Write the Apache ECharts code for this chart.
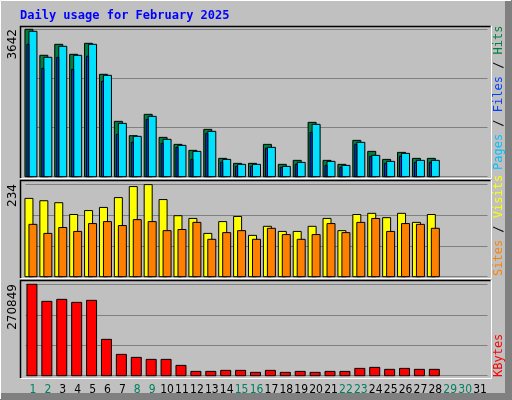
<!DOCTYPE html>
<html>
<head>
<meta charset="utf-8">
<script src="https://cdn.jsdelivr.net/npm/echarts@6/dist/echarts.min.js"></script>
<style>html,body{margin:0;padding:0;background:#c0c0c0}#chart{width:512px;height:400px}</style>
</head>
<body>
<div id="chart"></div>
<script>
(function () {

    var days = [];
    for (var d = 1; d <= 31; d++) days.push(String(d));
    var weekend = ['1', '2', '8', '9', '15', '16', '22', '23', '29', '30'];

    var hits   = [3642, 3000, 3271, 3024, 3296, 2530, 1368, 1013, 1541, 972, 799, 651, 1170, 453, 330, 330, 799, 305, 404, 1343, 404, 305, 898, 626, 428, 601, 453, 453];
    var files  = [3593, 2950, 3222, 2999, 3271, 2505, 1318, 997, 1491, 923, 775, 626, 1121, 428, 305, 305, 725, 255, 354, 1294, 379, 280, 849, 527, 379, 577, 404, 404];
    var pages  = [3271, 2678, 2950, 2653, 2975, 2357, 1046, 849, 1417, 824, 725, 428, 1071, 354, 255, 255, 700, 231, 305, 1096, 280, 231, 799, 503, 330, 503, 354, 354];
    var visits = [199, 193, 188, 158, 168, 176, 201, 229, 234, 196, 155, 148, 110, 140, 153, 105, 128, 115, 115, 128, 148, 117, 158, 161, 150, 161, 138, 158];
    var sites  = [133, 110, 125, 115, 135, 140, 130, 145, 140, 117, 120, 138, 95, 112, 117, 95, 123, 107, 95, 107, 135, 112, 138, 148, 115, 135, 133, 123];
    var kbytes = [270849, 220300, 226250, 217350, 223300, 107700, 63200, 54300, 48400, 48400, 30600, 12800, 12800, 15800, 15800, 9900, 15800, 9900, 12800, 9900, 12800, 12800, 21700, 24700, 18800, 21700, 18800, 18800];

    var maxHits = 3642, maxVisits = 234, maxKB = 270849;

    var chart = echarts.init(document.getElementById('chart'));

    function toData(arr) {
        return arr.map(function (v, i) { return [i, v]; });
    }

    // bar drawn from offset x0..x1 relative to category center
    function barSeries(idx, arr, x0, x1, color) {
        return {
            type: 'custom', xAxisIndex: idx, yAxisIndex: idx, data: toData(arr),
            renderItem: function (params, api) {
                var top = api.coord([api.value(0), api.value(1)]);
                var base = api.coord([api.value(0), 0]);
                return {
                    type: 'rect',
                    shape: { x: top[0] + x0, y: top[1], width: x1 - x0, height: base[1] - top[1] },
                    style: { fill: color, stroke: '#000', lineWidth: 1 }
                };
            }
        };
    }

    var grids = [
        { left: 25.5, width: 462, top: 29.3, height: 147.4 },
        { left: 25.5, width: 462, top: 184.6, height: 92.1 },
        { left: 25.5, width: 462, top: 284.3, height: 91.4 }
    ];
    var maxes = [maxHits, maxVisits, maxKB];

    var lblFont = '"DejaVu Sans Condensed"';
    var xAxes = grids.map(function (g, i) {
        return {
            type: 'category', gridIndex: i, data: days, boundaryGap: true,
            axisLine: { show: false }, axisTick: { show: false },
            axisLabel: i < 2 ? { show: false } : {
                margin: 8, fontSize: 12, interval: 0,
                formatter: function (v) { return weekend.indexOf(v) >= 0 ? '{w|' + v + '}' : '{n|' + v + '}'; },
                rich: { w: { color: '#008060', fontSize: 12, fontFamily: lblFont }, n: { color: '#000', fontSize: 12, fontFamily: lblFont } }
            }
        };
    });
    var yAxes = grids.map(function (g, i) {
        return {
            type: 'value', gridIndex: i, min: 0, max: maxes[i], interval: maxes[i] / 3 + 0.01,
            axisLine: { show: false }, axisTick: { show: false }, axisLabel: { show: false },
            splitLine: { lineStyle: { color: '#808080', width: 1 } }
        };
    });

    var graphics = [
        { type: 'rect', shape: { x: 0, y: 0, width: 512, height: 400 }, style: { fill: '#c0c0c0' }, z: -10 },
        { type: 'rect', shape: { x: 505, y: 0, width: 7, height: 400 }, style: { fill: '#808080' }, z: -9 },
        { type: 'rect', shape: { x: 0, y: 393, width: 512, height: 7 }, style: { fill: '#808080' }, z: -9 },
        { type: 'polyline', shape: { points: [[0.5, 399], [0.5, 0.5], [511, 0.5]] }, style: { stroke: '#fff', fill: null }, z: -8 },
        { type: 'text', x: 20, y: 16, style: { text: 'Daily usage for February 2025', fill: '#0000ff', font: 'bold 12px "DejaVu Sans Mono"', verticalAlign: 'middle' } }
    ];
    var boxes = [[26, 178], [180, 278], [280, 378]];
    boxes.forEach(function (b) {
        graphics.push({ type: 'polyline', shape: { points: [[20.5, b[1]], [20.5, b[0] + 0.5], [490.5, b[0] + 0.5]] }, style: { stroke: '#000', lineWidth: 1.5, fill: null }, z: 10 });
        graphics.push({ type: 'polyline', shape: { points: [[20.5, b[1] + 0.5], [491.5, b[1] + 0.5], [491.5, b[0]]] }, style: { stroke: '#fff', lineWidth: 1, fill: null }, z: 10 });
    });
    function vtext(x, y, text, align, rich, font) {
        return { type: 'text', x: x, y: y, rotation: Math.PI / 2,
            style: { text: text, align: align, verticalAlign: 'middle', font: font, rich: rich, fill: '#000' }, z: 10 };
    }
    var mono = '12px "DejaVu Sans Mono"';
    var rm = function (c) { return { fill: c, font: mono }; };
    graphics.push(vtext(13, 29, String(maxHits), 'right', null, '12px "DejaVu Sans"'));
    graphics.push(vtext(13, 184, String(maxVisits), 'right', null, '12px "DejaVu Sans"'));
    graphics.push(vtext(13, 284, String(maxKB), 'right', null, '12px "DejaVu Sans"'));
    graphics.push(vtext(499, 170, '{p|Pages}{s| / }{f|Files}{s| / }{h|Hits}', 'left',
        { p: rm('#00c0ff'), f: rm('#0040ff'), h: rm('#008040'), s: rm('#000') }, mono));
    graphics.push(vtext(499, 276, '{a|Sites}{s| / }{b|Visits}', 'left',
        { a: rm('#ff8000'), b: rm('#ffff00'), s: rm('#000') }, mono));
    graphics.push(vtext(499, 377, '{k|KBytes}', 'left', { k: rm('#ff0000') }, mono));

    chart.setOption({
        animation: false,
        backgroundColor: '#c0c0c0',
        grid: grids,
        xAxis: xAxes,
        yAxis: yAxes,
        graphic: graphics,
        series: [
            barSeries(0, hits, -8, 0, '#008040'),
            barSeries(0, files, -4, 4, '#00e0ff'),
            barSeries(0, pages, -6, -4, '#0040ff'),
            barSeries(1, visits, -8, 0, '#ffff00'),
            barSeries(1, sites, -4, 4, '#ff8000'),
            barSeries(2, kbytes, -6, 4, '#ff0000')
        ]
    });

})();
</script>
</body>
</html>
